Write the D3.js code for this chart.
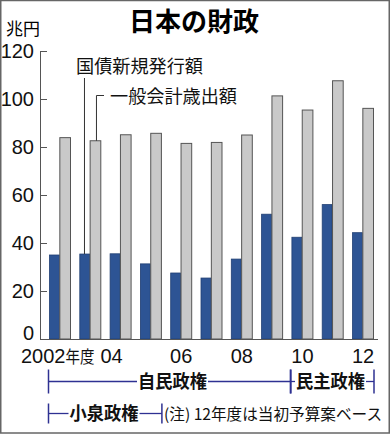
<!DOCTYPE html>
<html><head><meta charset="utf-8">
<script src="https://cdn.jsdelivr.net/npm/d3@7"></script>
<style>
html,body{margin:0;padding:0;background:#fff;}
svg{display:block;}
</style></head>
<body>
<svg id="c" width="390" height="434"></svg>
<script>
const years = [2002,2003,2004,2005,2006,2007,2008,2009,2010,2011,2012];
const bondIssuance = [35.0,35.4,35.5,31.3,27.5,25.4,33.3,52.0,42.4,56.0,44.3];
const expenditure = [83.9,82.6,85.1,85.7,81.5,81.9,85.0,101.3,95.4,107.6,96.1];
const yTicks = [0,20,40,60,80,100,120];
const xTickYears = [2002,2004,2006,2008,2010,2012];
const xTickLabels = ["2002年度","04","06","08","10","12"];
const title = "日本の財政";
const unitLabel = "兆円";
const seriesNames = ["国債新規発行額","一般会計歳出額"];
const eras = [
  {name:"自民政権", from:2002, to:2009, row:0},
  {name:"民主政権", from:2010, to:2012, row:0},
  {name:"小泉政権", from:2002, to:2005, row:1}
];
const note = "(注) 12年度は当初予算案ベース";

const JP = "'Noto Sans CJK JP','Noto Sans',sans-serif";
const NUM = "'Liberation Sans Narrow','Liberation Sans',Arial,sans-serif";
const blue = "#2d5494", gray = "#c9c9c9", navy = "#2e3192";

const svg = d3.select("#c");
// frame
svg.append("rect").attr("x",0.75).attr("y",0.5).attr("width",388.5).attr("height",432.5)
  .attr("fill","none").attr("stroke","#666").attr("stroke-width",1.5);

const x = d3.scaleBand().domain(years).range([49,374]).paddingInner(0.274).paddingOuter(0);
const y = d3.scaleLinear().domain([0,120]).range([339,51]);
const bw = x.bandwidth();
const half = bw*0.47;

// title
svg.append("text").attr("x",194).attr("y",31).attr("text-anchor","middle")
  .attr("font-family",JP).attr("font-weight","bold").attr("font-size",26).text(title);
svg.append("text").attr("x",6).attr("y",35).attr("font-family",JP).attr("font-size",17).text(unitLabel);

// y axis
const yAxis = d3.axisRight(y).tickValues(yTicks).tickSize(7).tickFormat("");
const ga = svg.append("g").attr("transform","translate(40,0)").call(yAxis);
ga.select(".domain").attr("stroke","#555").attr("d","M0.5,"+y(120)+"V"+y(0));
ga.selectAll(".tick line").attr("stroke","#555");
svg.selectAll(".ylab").data(yTicks).join("text")
  .attr("x",34).attr("y",d=>y(d) + (d===0?-6:0)).attr("dy","0.36em").attr("text-anchor","end")
  .attr("font-family",NUM).attr("font-size",20).attr("fill","#111").text(d=>d);

// bars
svg.selectAll(".b1").data(years).join("rect")
  .attr("x",d=>x(d)+0.5).attr("width",half-0.5)
  .attr("y",(d,i)=>y(bondIssuance[i])).attr("height",(d,i)=>y(0)-y(bondIssuance[i]))
  .attr("fill",blue).attr("stroke","#203f73").attr("stroke-width",0.8);
svg.selectAll(".b2").data(years).join("rect")
  .attr("x",d=>x(d)+half+0.5).attr("width",bw-half-1)
  .attr("y",(d,i)=>y(expenditure[i])).attr("height",(d,i)=>y(0)-y(expenditure[i]))
  .attr("fill",gray).attr("stroke","#555").attr("stroke-width",1);

// x axis line
svg.append("line").attr("x1",40).attr("x2",378).attr("y1",y(0)+0.5).attr("y2",y(0)+0.5)
  .attr("stroke","#555").attr("stroke-width",1);

// x labels
svg.selectAll(".xlab").data(xTickYears).join("text")
  .attr("x",(d,i)=> i===0 ? x(d)-28 : x(d)+bw/2 + (d===2004?-9:0))
  .attr("y",363).attr("text-anchor",(d,i)=>i===0?"start":"middle")
  .attr("font-family",NUM).attr("font-size",20).attr("fill","#111")
  .each(function(d,i){
    const t = d3.select(this);
    if(i===0){
      t.append("tspan").text(xTickLabels[i].slice(0,4));
      t.append("tspan").attr("font-family",JP).attr("font-size",17.5)
        .attr("textLength",29).attr("lengthAdjust","spacingAndGlyphs").text(xTickLabels[i].slice(4));
    } else t.text(xTickLabels[i]);
  });

// legend leaders
const i03 = years.indexOf(2003);
const lx1 = x(2003)+half/2;
svg.append("line").attr("x1",lx1).attr("x2",lx1).attr("y1",78).attr("y2",y(bondIssuance[i03]))
  .attr("stroke","#333").attr("stroke-width",1);
svg.append("text").attr("x",76).attr("y",73).attr("font-family",JP).attr("font-size",18)
  .attr("textLength",127).attr("lengthAdjust","spacingAndGlyphs").attr("fill","#111").text(seriesNames[0]);
const lx2 = x(2003)+half+(bw-half)/2+1;
svg.append("path").attr("d",`M${lx2},${y(expenditure[i03])}V95.5H104`)
  .attr("fill","none").attr("stroke","#333").attr("stroke-width",1);
svg.append("text").attr("x",110).attr("y",103).attr("font-family",JP).attr("font-size",18)
  .attr("textLength",127).attr("lengthAdjust","spacingAndGlyphs").attr("fill","#111").text(seriesNames[1]);

// eras
const rowY = [381.5, 413.5];
const eraCenter = {"自民政権":172.5,"小泉政権":104,"民主政権":330.5};
eras.forEach(e=>{
  const ry = rowY[e.row];
  const x0 = x(e.from) - 0.5;
  const x1 = e.to===2009 ? x(2010)-1 : x(e.to)+bw;
  const g = svg.append("g");
  const tx = eraCenter[e.name];
  const w = 69;
  g.append("text").attr("x",tx).attr("y",ry+6.5).attr("text-anchor","middle")
    .attr("font-family",JP).attr("font-weight","bold").attr("font-size",18)
    .attr("textLength",w).attr("lengthAdjust","spacingAndGlyphs").attr("fill","#111").text(e.name);
  const l = tx - w/2 - 1, r = tx + w/2 + 1;
  g.append("line").attr("x1",x0).attr("x2",l).attr("y1",ry).attr("y2",ry).attr("stroke",navy).attr("stroke-width",1.3);
  g.append("line").attr("x1",r).attr("x2",x1).attr("y1",ry).attr("y2",ry).attr("stroke",navy).attr("stroke-width",1.3);
  const th = e.row===0 ? 12 : 10;
  g.append("line").attr("x1",x0).attr("x2",x0).attr("y1",ry-th).attr("y2",ry+th).attr("stroke",navy).attr("stroke-width",1.5);
  g.append("line").attr("x1",x1).attr("x2",x1).attr("y1",ry-th).attr("y2",ry+th).attr("stroke",navy).attr("stroke-width",1.5);
});
svg.append("text").attr("x",164).attr("y",420).attr("font-family",JP).attr("font-size",15.5)
  .attr("textLength",218).attr("lengthAdjust","spacingAndGlyphs").attr("fill","#111").text(note);
</script>
</body></html>
